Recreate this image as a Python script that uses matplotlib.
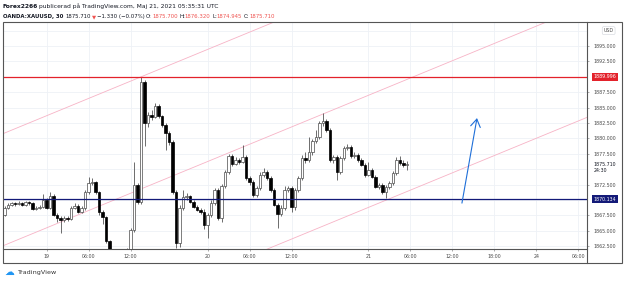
import matplotlib
matplotlib.use("Agg")
import matplotlib.pyplot as plt
from matplotlib.patches import Rectangle
from matplotlib.lines import Line2D
import numpy as np

# 30 min XAUUSD bars, bar index 0 = first visible bar
opens = [
    1867.56, 1868.70, 1869.19, 1869.51, 1869.35, 1869.51, 1869.19, 1869.68, 1869.51, 1868.54,
    1868.70, 1868.86, 1870.00, 1868.70, 1870.65, 1867.56, 1867.08, 1866.75, 1867.08, 1866.92,
    1868.70, 1869.03, 1868.05, 1868.70, 1871.30, 1872.76, 1872.92, 1871.30, 1868.05, 1867.24,
    1863.34, 1860.58, 1859.94, 1859.29, 1859.94, 1860.58, 1861.56, 1865.13, 1872.43, 1869.68,
    1889.16, 1882.50, 1883.80, 1883.47, 1885.26, 1883.64, 1882.18, 1880.88, 1879.42, 1871.30,
    1863.02, 1868.70, 1870.49, 1870.65, 1869.68, 1868.86, 1868.38, 1868.05, 1865.94, 1867.56,
    1869.51, 1871.62, 1867.08, 1872.27, 1874.55, 1877.14, 1875.84, 1876.49, 1876.17, 1876.98,
    1873.57, 1872.92, 1870.81, 1871.95, 1874.06, 1874.55, 1873.57, 1871.62, 1869.19, 1867.73,
    1868.70, 1871.62, 1871.95, 1868.86, 1871.62, 1873.57, 1876.82, 1876.49, 1877.79, 1879.58,
    1880.23, 1882.50, 1882.82, 1881.36, 1876.49, 1876.98, 1874.55, 1876.82, 1878.44, 1878.60,
    1877.14, 1877.30, 1876.49, 1875.68, 1874.06, 1874.87, 1873.73, 1872.11, 1872.43, 1871.30,
    1872.11, 1872.76, 1874.38, 1876.49, 1876.01, 1875.70,
]
highs = [
    1869.03, 1869.51, 1869.68, 1869.68, 1869.84, 1869.68, 1869.84, 1869.84, 1869.68, 1869.03,
    1869.19, 1870.97, 1870.32, 1871.30, 1870.97, 1867.89, 1867.40, 1867.40, 1867.40, 1869.03,
    1869.51, 1869.35, 1869.03, 1871.62, 1873.73, 1873.57, 1873.08, 1871.46, 1868.38, 1867.40,
    1863.51, 1861.07, 1860.58, 1860.58, 1861.23, 1862.21, 1865.45, 1876.17, 1872.76, 1889.97,
    1889.48, 1884.29, 1884.61, 1885.75, 1885.58, 1883.80, 1882.50, 1881.20, 1879.74, 1871.62,
    1869.19, 1871.62, 1871.14, 1870.81, 1870.00, 1869.19, 1868.70, 1868.54, 1867.89, 1870.00,
    1871.95, 1871.95, 1872.60, 1874.87, 1877.47, 1877.47, 1876.98, 1876.82, 1878.93, 1877.30,
    1873.90, 1873.25, 1872.27, 1874.55, 1875.19, 1874.87, 1873.90, 1871.95, 1869.51, 1869.19,
    1872.27, 1872.27, 1872.27, 1871.95, 1873.90, 1877.30, 1877.79, 1880.23, 1879.90, 1881.36,
    1882.82, 1884.12, 1883.15, 1881.69, 1877.30, 1877.30, 1877.14, 1878.77, 1879.09, 1878.93,
    1877.79, 1877.63, 1876.82, 1876.01, 1876.17, 1875.19, 1874.06, 1872.76, 1872.76, 1872.43,
    1873.08, 1874.71, 1876.98, 1877.14, 1876.49, 1876.32,
]
lows = [
    1867.40, 1868.54, 1869.03, 1869.03, 1869.19, 1869.03, 1869.03, 1869.19, 1868.38, 1868.38,
    1868.54, 1868.70, 1868.54, 1868.54, 1867.40, 1866.43, 1864.64, 1866.43, 1866.59, 1866.75,
    1868.54, 1867.89, 1867.89, 1868.38, 1870.97, 1872.43, 1870.97, 1867.56, 1866.10, 1863.02,
    1859.94, 1858.96, 1858.31, 1858.64, 1859.29, 1859.61, 1860.91, 1864.81, 1869.35, 1869.35,
    1878.77, 1881.85, 1882.99, 1883.31, 1883.31, 1881.85, 1878.12, 1878.93, 1870.97, 1862.21,
    1862.37, 1868.38, 1870.00, 1869.51, 1868.70, 1868.21, 1867.73, 1865.29, 1863.83, 1867.24,
    1869.19, 1866.75, 1866.43, 1871.95, 1874.22, 1875.52, 1875.68, 1875.84, 1876.01, 1873.25,
    1872.43, 1870.49, 1870.49, 1871.62, 1873.73, 1873.25, 1871.30, 1869.03, 1865.45, 1867.40,
    1868.38, 1871.30, 1868.05, 1868.38, 1871.30, 1873.25, 1876.01, 1876.17, 1877.30, 1879.25,
    1879.90, 1882.01, 1881.04, 1876.17, 1876.01, 1873.25, 1874.22, 1876.49, 1878.12, 1876.82,
    1876.82, 1876.17, 1875.52, 1873.73, 1873.90, 1873.57, 1871.95, 1871.79, 1870.97, 1870.32,
    1871.79, 1872.43, 1874.06, 1875.68, 1875.36, 1874.945,
]
closes = [
    1868.70, 1869.19, 1869.51, 1869.35, 1869.51, 1869.19, 1869.68, 1869.51, 1868.54, 1868.70,
    1868.86, 1870.00, 1868.70, 1870.65, 1867.56, 1867.08, 1866.75, 1867.08, 1866.92, 1868.70,
    1869.03, 1868.05, 1868.70, 1871.30, 1872.76, 1872.92, 1871.30, 1868.05, 1867.24, 1863.34,
    1860.58, 1859.94, 1859.29, 1859.94, 1860.58, 1861.56, 1865.13, 1872.43, 1869.68, 1889.16,
    1882.50, 1883.80, 1883.47, 1885.26, 1883.64, 1882.18, 1880.88, 1879.42, 1871.30, 1863.02,
    1868.70, 1870.49, 1870.65, 1869.68, 1868.86, 1868.38, 1868.05, 1865.94, 1867.56, 1869.51,
    1871.62, 1867.08, 1872.27, 1874.55, 1877.14, 1875.84, 1876.49, 1876.17, 1876.98, 1873.57,
    1872.92, 1870.81, 1871.95, 1874.06, 1874.55, 1873.57, 1871.62, 1869.19, 1867.73, 1868.70,
    1871.62, 1871.95, 1868.86, 1871.62, 1873.57, 1876.82, 1876.49, 1877.79, 1879.58, 1880.23,
    1882.50, 1882.82, 1881.36, 1876.49, 1876.98, 1874.55, 1876.82, 1878.44, 1878.60, 1877.14,
    1877.30, 1876.49, 1875.68, 1874.06, 1874.87, 1873.73, 1872.11, 1872.43, 1871.30, 1872.11,
    1872.76, 1874.38, 1876.49, 1876.01, 1875.70, 1875.71,
]

time_ticks = [12, 24, 36, 58, 70, 82, 104, 116, 128, 140, 152, 164]
time_labels = ["19", "06:00", "12:00", "20", "06:00", "12:00", "21", "06:00", "12:00", "18:00", "24", "06:00"]

price_grid = [1862.5, 1865.0, 1867.5, 1870.0, 1872.5, 1875.0, 1877.5, 1880.0,
              1882.5, 1885.0, 1887.5, 1890.0, 1892.5, 1895.0, 1897.5]
# labels hidden by the level boxes / USD badge are left out
price_labels_shown = [1862.5, 1865.0, 1867.5, 1872.5, 1877.5, 1880.0,
                      1882.5, 1885.0, 1887.5, 1892.5, 1895.0]

# horizontal levels drawn on chart
levels = [1889.996, 1870.134]
level_colors = ["#e3222b", "#131a78"]

# parallel channel: base line start (bar, price), slope per bar, offsets
chan_start = (0, 1862.67)
chan_slope = 0.234
chan_offsets = [18.2, 0.0, -18.2]

# arrow drawing (bar, price)
arrow_from = (130.7, 1869.5)
arrow_to = (135.0, 1883.3)

last_price = 1875.71

W, H = 625, 283
fig = plt.figure(figsize=(W / 100, H / 100), dpi=100)
fig.patch.set_facecolor("white")


def fx(px):
    return px / W


def fy(py):
    return 1 - py / H


ax = fig.add_axes([fx(3), fy(248.5), fx(587) - fx(3), fy(22) - fy(248.5)])
ax.set_xlim(-0.43, 166.43)
ax.set_ylim(1862.13, 1898.9)

# grid
for p in price_grid:
    ax.axhline(p, color="#eef1f6", lw=0.6, zorder=0)
for t in time_ticks:
    ax.axvline(t, color="#eef1f6", lw=0.6, zorder=0)

# channel lines
xs = np.array([-5, 175])
for off in chan_offsets:
    ys = chan_start[1] + off + chan_slope * (xs - chan_start[0])
    ax.plot(xs, ys, color="#f7b3c6", lw=0.6, zorder=1)

# candles
idx = np.arange(len(closes))
o = np.array(opens)
c = np.array(closes)
hi = np.array(highs)
lo = np.array(lows)
up = c >= o
ax.vlines(idx, lo, hi, color="#333333", lw=0.5, zorder=2)
bottoms = np.minimum(o, c)
heights = np.maximum(np.abs(c - o), 0.08)
ax.bar(idx[up], heights[up], bottom=bottoms[up], width=0.68,
       facecolor="white", edgecolor="#4a4a4a", lw=0.5, zorder=3)
ax.bar(idx[~up], heights[~up], bottom=bottoms[~up], width=0.68,
       facecolor="black", edgecolor="black", lw=0.5, zorder=3)

# horizontal levels
for lv, col in zip(levels, level_colors):
    ax.axhline(lv, color=col, lw=0.9, zorder=4)

# arrow
ax.annotate("", xy=arrow_to, xytext=arrow_from,
            arrowprops=dict(arrowstyle="->,head_length=0.55,head_width=0.35",
                            color="#1f6fd8", lw=0.8, mutation_scale=10,
                            shrinkA=0, shrinkB=0), zorder=5)

# axes styling
for s in ["top", "right", "left"]:
    ax.spines[s].set_visible(False)
ax.spines["bottom"].set_color("#555555")
ax.spines["bottom"].set_linewidth(0.8)

ax.set_xticks(time_ticks, time_labels)
ax.tick_params(axis="x", length=1.5, width=0.5, color="#888888", pad=2.6,
               labelsize=3.4, labelcolor="#4a4a4a")
ax.yaxis.tick_right()
ax.set_yticks(price_labels_shown, [f"{p:.3f}" for p in price_labels_shown])
ax.tick_params(axis="y", length=1.5, width=0.5, color="#888888", pad=3.2,
               labelsize=3.4, labelcolor="#4a4a4a")

# price axis boxes
ytr = ax.get_yaxis_transform()
for lv, col in zip(levels, level_colors):
    ax.text(1.0117, lv, f"{lv:.3f}", transform=ytr, ha="left", va="center",
            fontsize=3.4, color="white", zorder=6, clip_on=False,
            bbox=dict(boxstyle="square,pad=0.35", facecolor=col, edgecolor="none"))
ax.text(1.0117, last_price, f"{last_price:.3f}", transform=ytr, ha="left", va="center",
        fontsize=3.4, color="#131722", zorder=6, clip_on=False)
ax.text(1.0117, last_price - 0.95, "24:30", transform=ytr, ha="left", va="center",
        fontsize=3.4, color="#131722", zorder=6, clip_on=False)
ax.text(1.0285, 1897.5, "USD", transform=ytr, ha="left", va="center",
        fontsize=3.4, color="#4a4a4a", zorder=6, clip_on=False,
        bbox=dict(boxstyle="round,pad=0.3", facecolor="white", edgecolor="#d0d3da", lw=0.4))

# outer frame and separators
fig.patches.append(Rectangle((fx(3), fy(263)), fx(622) - fx(3), fy(22) - fy(263),
                             fill=False, edgecolor="#555555", lw=0.8,
                             transform=fig.transFigure, figure=fig))
fig.lines.append(Line2D([fx(587), fx(587)], [fy(22), fy(263)], color="#555555",
                        lw=0.8, transform=fig.transFigure, figure=fig))

# header rows, placed piece by piece
renderer = fig.canvas.get_renderer()


def put_row(x, y, parts, size, gap):
    for s, col, wt, g in parts:
        t = fig.text(fx(x), fy(y), s, fontsize=size, color=col, fontweight=wt,
                     ha="left", va="center")
        x += t.get_window_extent(renderer).width + gap * g


put_row(3, 6.5, [("Forex2266", "#131722", "bold", 1),
                 ("publicerad på TradingView.com, Maj 21, 2021 05:35:31 UTC", "#131722", "normal", 1)],
        4.3, 1.2)
red = "#ef5350"
put_row(3, 16.5, [("OANDA:XAUUSD, 30", "#131722", "bold", 2),
                  ("1875.710", "#131722", "normal", 1),
                  ("▼", red, "normal", 1),
                  ("−1.330 (−0.07%)", "#131722", "normal", 1.5),
                  ("O:", "#131722", "normal", 0), ("1875.700", red, "normal", 1.5),
                  ("H:", "#131722", "normal", 0), ("1876.320", red, "normal", 1.5),
                  ("L:", "#131722", "normal", 0), ("1874.945", red, "normal", 1.5),
                  ("C:", "#131722", "normal", 0), ("1875.710", red, "normal", 0)],
        3.85, 1.0)

# footer logo
fig.text(fx(4), fy(272), "☁", fontsize=7, color="#2196f3", ha="left", va="center")
fig.text(fx(17), fy(272.5), "TradingView", fontsize=4.6, color="#333333", ha="left", va="center")

fig.savefig("out.png", dpi=100)
